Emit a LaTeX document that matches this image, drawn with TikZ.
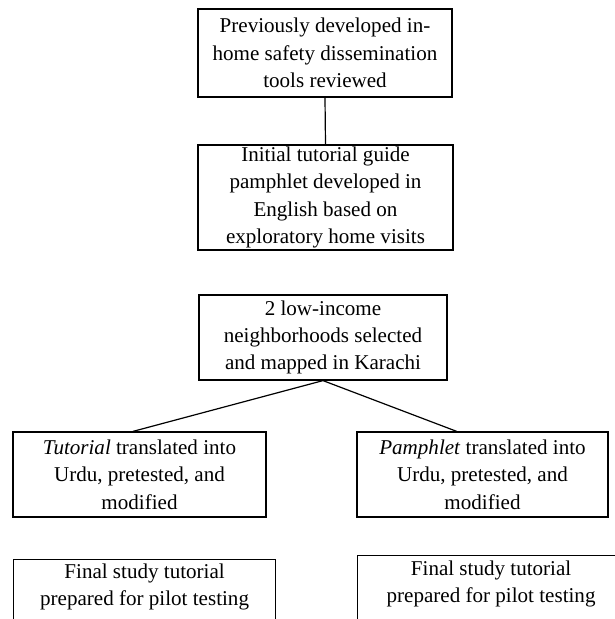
\documentclass[tikz,border=0pt]{standalone}
\usepackage{fontspec}
\setmainfont{Liberation Serif}
\usetikzlibrary{calc}
\tikzset{
  box/.style={draw, line width=0.9pt, align=center, inner sep=0pt,
    font=\fontsize{15.8}{20.5}\selectfont},
  link/.style={line width=0.9pt}
}
\begin{document}
\begin{tikzpicture}[x=0.75pt,y=-0.75pt]
\useasboundingbox (0,0) rectangle (615,619);
\clip (0,0) rectangle (615,619);
\node[box, minimum width={254*0.75pt}, minimum height={88*0.75pt}] (b1) at (325,53)
  {Previously developed in-\\home safety dissemination\\tools reviewed};
\node[box, minimum width={255*0.75pt}, minimum height={105*0.75pt}] (b2) at (325.5,197.5)
  {Initial tutorial guide\\pamphlet developed in\\English based on\\exploratory home visits};
\node[box, minimum width={248*0.75pt}, minimum height={85*0.75pt}] (b3) at (323,337.5)
  {2 low-income\\neighborhoods selected\\and mapped in Karachi};
\node[box, minimum width={253*0.75pt}, minimum height={85*0.75pt}] (b4) at (139.5,474.5)
  {\textit{Tutorial} translated into\\Urdu, pretested, and\\modified};
\node[box, minimum width={251*0.75pt}, minimum height={85*0.75pt}] (b5) at (482.5,474.5)
  {\textit{Pamphlet} translated into\\Urdu, pretested, and\\modified};
\node[box, anchor=north west, minimum width={262*0.75pt}, inner ysep={4*0.75pt},
  text depth=40pt] (b6) at (13,559)
  {Final study tutorial\\prepared for pilot testing};
\node[box, anchor=north west, minimum width={267*0.75pt}, minimum height={64.5*0.75pt},
  inner ysep={5*0.75pt}, text depth=16pt] (b7) at (357,555)
  {Final study tutorial\\prepared for pilot testing};
\draw[link] (b1.south) -- (b2.north);
\draw[link] (b3.south) -- ($(b4.north west)!0.474!(b4.north east)$);
\draw[link] (b3.south) -- ($(b5.north west)!0.398!(b5.north east)$);
\end{tikzpicture}
\end{document}
